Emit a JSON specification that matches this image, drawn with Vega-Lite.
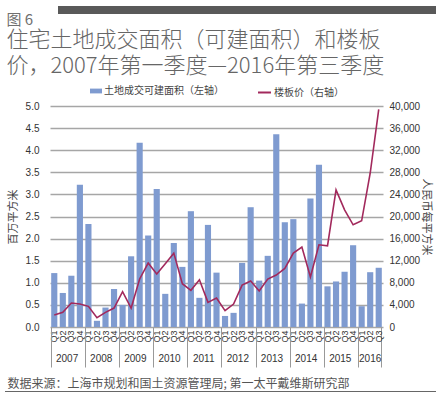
{
  "$schema": "https://vega.github.io/schema/vega-lite/v6.json",
  "autosize": "none",
  "width": 333,
  "height": 221,
  "padding": {"left": 50, "top": 106, "right": 58, "bottom": 67},
  "config": {
    "view": {"stroke": null},
    "font": "Noto Sans CJK SC",
    "axis": {"labelFont": "Liberation Sans", "titleFont": "Noto Sans CJK SC"},
    "legend": {"labelFont": "Noto Sans CJK SC"}
  },
  "title": {
    "text": "图 6",
    "subtitle": ["住宅土地成交面积（可建面积）和楼板", "价，2007年第一季度—2016年第三季度"],
    "anchor": "start",
    "frame": "bounds",
    "dx": 2,
    "fontSize": 15,
    "fontWeight": "normal",
    "color": "#707070",
    "subtitleFont": "Noto Sans CJK SC",
    "subtitleFontSize": 22,
    "subtitleFontWeight": 300,
    "subtitleColor": "#666666",
    "subtitleLineHeight": 26,
    "subtitlePadding": 2,
    "offset": -71
  },
  "layer": [
    {
      "data": {"values": [
        {"q":"2007Q1","area":1.22,"price":2170},
        {"q":"2007Q2","area":0.77,"price":2650},
        {"q":"2007Q3","area":1.16,"price":4340},
        {"q":"2007Q4","area":3.22,"price":4160},
        {"q":"2008Q1","area":2.33,"price":3740},
        {"q":"2008Q2","area":0.14,"price":1690},
        {"q":"2008Q3","area":0.44,"price":2650},
        {"q":"2008Q4","area":0.86,"price":3430},
        {"q":"2009Q1","area":0.50,"price":6390},
        {"q":"2009Q2","area":1.60,"price":3430},
        {"q":"2009Q3","area":4.17,"price":8700},
        {"q":"2009Q4","area":2.07,"price":11570},
        {"q":"2010Q1","area":3.12,"price":9580},
        {"q":"2010Q2","area":0.75,"price":11450},
        {"q":"2010Q3","area":1.90,"price":13370},
        {"q":"2010Q4","area":1.36,"price":7830},
        {"q":"2011Q1","area":2.62,"price":6630},
        {"q":"2011Q2","area":0.66,"price":8550},
        {"q":"2011Q3","area":2.31,"price":4460},
        {"q":"2011Q4","area":1.23,"price":5240},
        {"q":"2012Q1","area":0.25,"price":2950},
        {"q":"2012Q2","area":0.32,"price":4160},
        {"q":"2012Q3","area":1.45,"price":7590},
        {"q":"2012Q4","area":2.71,"price":8310},
        {"q":"2013Q1","area":1.05,"price":6510},
        {"q":"2013Q2","area":1.61,"price":8680},
        {"q":"2013Q3","area":4.36,"price":9400},
        {"q":"2013Q4","area":2.37,"price":10600},
        {"q":"2014Q1","area":2.44,"price":13370},
        {"q":"2014Q2","area":0.53,"price":14460},
        {"q":"2014Q3","area":2.91,"price":9040},
        {"q":"2014Q4","area":3.67,"price":14880},
        {"q":"2015Q1","area":0.92,"price":14700},
        {"q":"2015Q2","area":1.03,"price":24820},
        {"q":"2015Q3","area":1.25,"price":21200},
        {"q":"2015Q4","area":1.85,"price":18500},
        {"q":"2016Q1","area":0.47,"price":19220},
        {"q":"2016Q2","area":1.24,"price":27830},
        {"q":"2016Q3","area":1.34,"price":39400}
      ]},
      "layer": [
        {
          "mark": {"type": "bar"},
          "encoding": {
            "x": {
              "field": "q", "type": "ordinal", "sort": null,
              "scale": {"paddingInner": 0.28, "paddingOuter": 0.14},
              "axis": {
                "orient": "bottom",
                "labelExpr": "slice(datum.value, 4)",
                "labelAngle": 270,
                "labelAlign": "right",
                "labelBaseline": "middle",
                "labelFontSize": 9,
                "labelColor": "#333333",
                "labelPadding": -37,
                "domain": false,
                "ticks": true,
                "tickSize": 40,
                "tickColor": "#999999",
                "tickWidth": 1,
                "bandPosition": 1,
                "tickOpacity": {"condition": {"test": "datum.value === '2016Q3'", "value": 1}, "value": 0},
                "title": null
              }
            },
            "y": {
              "field": "area", "type": "quantitative",
              "scale": {"domain": [0, 5]},
              "axis": {
                "orient": "left",
                "values": [0, 0.5, 1, 1.5, 2, 2.5, 3, 3.5, 4, 4.5, 5],
                "format": ".1f",
                "grid": true,
                "gridColor": "#a6a6a6",
                "gridWidth": 1.5,
                "domain": false,
                "ticks": false,
                "labelPadding": 11,
                "labelFontSize": 10,
                "labelColor": "#333333",
                "title": "百万平方米",
                "titleFontSize": 11,
                "titleFontWeight": "normal",
                "titleColor": "#444444",
                "titlePadding": 7
              }
            },
            "fill": {
              "datum": "土地成交可建面积（左轴）",
              "scale": {"range": ["#7f9bd0"]},
              "legend": {
                "orient": "none", "legendX": 40, "legendY": -21, "title": null, "padding": 0,
                "symbolType": "M-1,-0.4H1V0.4H-1Z", "symbolSize": 144, "symbolStrokeWidth": 0,
                "labelFontSize": 10, "labelColor": "#444444", "labelOffset": 2
              }
            }
          }
        },
        {
          "mark": {"type": "line", "strokeWidth": 1.6},
          "encoding": {
            "x": {
              "field": "q", "type": "ordinal", "sort": null,
              "axis": {
                "orient": "bottom",
                "values": ["2007Q1","2008Q1","2009Q1","2010Q1","2011Q1","2012Q1","2013Q1","2014Q1","2015Q1","2016Q1"],
                "bandPosition": 0,
                "labelExpr": "slice(datum.value, 0, 4)",
                "labelAngle": 0,
                "labelAlign": "center",
                "labelBaseline": "top",
                "labelFontSize": 10,
                "labelColor": "#333333",
                "labelOffset": {"condition": {"test": "datum.value === '2016Q1'", "value": 8.5}, "value": 12.8},
                "labelPadding": -14,
                "domain": false,
                "ticks": true,
                "tickSize": 40,
                "tickColor": "#999999",
                "tickWidth": 1,
                "title": "数据来源：上海市规划和国土资源管理局; 第一太平戴维斯研究部",
                "titleFontSize": 12,
                "titleFontWeight": "normal",
                "titleColor": "#555555",
                "titleAnchor": "start",
                "titleAlign": "left",
                "titleBaseline": "alphabetic",
                "titleX": -43,
                "titleY": 60
              }
            },
            "y": {
              "field": "price", "type": "quantitative",
              "scale": {"domain": [0, 40000]},
              "axis": {
                "orient": "right",
                "values": [0, 4000, 8000, 12000, 16000, 20000, 24000, 28000, 32000, 36000, 40000],
                "format": ",d",
                "grid": false,
                "domain": false,
                "ticks": false,
                "labelPadding": 6,
                "labelFontSize": 10,
                "labelColor": "#333333",
                "title": "人民币每平方米",
                "titleAngle": 90,
                "titleFontSize": 11,
                "titleFontWeight": "normal",
                "titleColor": "#444444",
                "titlePadding": 1
              }
            },
            "stroke": {
              "datum": "楼板价（右轴）",
              "scale": {"range": ["#a2295c"]},
              "legend": {
                "orient": "none", "legendX": 207, "legendY": -21, "title": null, "padding": 0,
                "symbolType": "stroke", "symbolSize": 169, "symbolStrokeWidth": 2,
                "labelFontSize": 10, "labelColor": "#444444", "labelOffset": 2
              }
            }
          }
        }
      ],
      "resolve": {"scale": {"y": "independent"}, "axis": {"x": "independent"}}
    },
    {
      "data": {"values": [{"start": 0, "end": 1}]},
      "mark": {"type": "rule", "strokeWidth": 8, "color": "#595959", "strokeCap": "butt"},
      "encoding": {
        "x": {"field": "start", "type": "quantitative", "scale": {"domain": [0, 1], "range": [8, 386], "nice": false, "zero": false}, "axis": null},
        "x2": {"field": "end"},
        "y": {"field": "start", "type": "quantitative", "scale": {"domain": [0, 1], "range": [-96, -95], "nice": false, "zero": false}, "axis": null}
      }
    },
    {
      "data": {"values": [{"start": 0, "end": 1}]},
      "mark": {"type": "rule", "strokeWidth": 1, "color": "#666666", "strokeCap": "butt"},
      "encoding": {
        "x": {"field": "start", "type": "quantitative", "scale": {"domain": [0, 1], "range": [-45, 386], "nice": false, "zero": false}, "axis": null},
        "x2": {"field": "end"},
        "y": {"field": "start", "type": "quantitative", "scale": {"domain": [0, 1], "range": [285.5, 286.5], "nice": false, "zero": false}, "axis": null}
      }
    }
  ],
  "resolve": {"scale": {"x": "independent", "y": "independent"}, "axis": {"x": "independent", "y": "independent"}}
}
